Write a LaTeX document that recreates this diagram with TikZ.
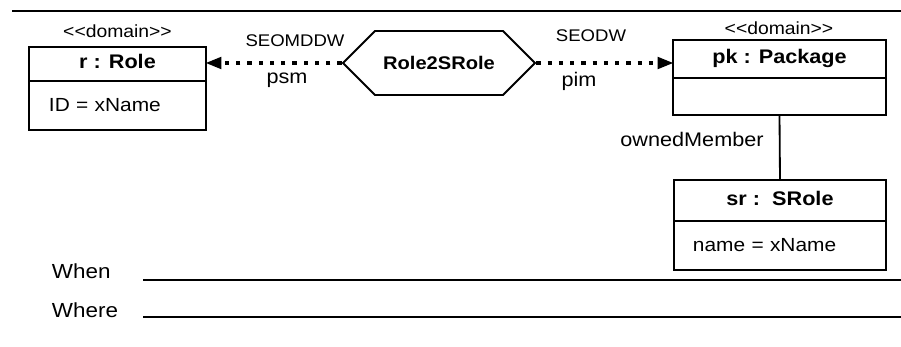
\documentclass[tikz,border=0pt]{standalone}
\usepackage{fontspec}
\setmainfont{Liberation Sans}[FakeStretch=1.1]
\usetikzlibrary{arrows.meta, positioning, shapes.symbols}

\begin{document}
\begin{tikzpicture}[
    x=0.025cm, y=-0.025cm,
    kepala/.style={draw, line width=1.3pt, inner sep=0pt, outer sep=0pt, text height=0.72em, text depth=0.05em,
                   font=\fontsize{14}{16}\selectfont\bfseries},
    isi/.style={draw, line width=1.3pt, inner ysep=0pt, outer sep=0pt, align=left,
                font=\fontsize{13.5}{16}\selectfont},
    stereo/.style={anchor=base, font=\fontsize{12.5}{14}\selectfont},
    teks/.style={anchor=base, font=\fontsize{12}{14}\selectfont},
    peran/.style={anchor=base, font=\fontsize{14}{16}\selectfont},
    panah/.style={line width=2.8pt, dash pattern=on 3pt off 5pt,
                  -{Triangle[length=11pt, width=9pt, line width=0pt]}}
  ]
    \useasboundingbox (0,0) rectangle (901,347);
    \draw[line width=1.3pt] (12,11) -- (901,11);

    % kelas domain kiri
    \node[kepala, minimum width=4.425cm, minimum height=0.85cm] (roleHead) at (117.5,64) {r : Role};
    \node[isi, minimum width=4.425cm, minimum height=1.225cm, text width=3.425cm, inner xsep=0.5cm,
          below=0pt of roleHead] (roleBody) {ID = xName};
    \node[stereo] (roleStereo) at (117.5,38) {{<}{<}domain{>}{>}};

    % transformasi
    \node[draw, line width=1.3pt, shape=signal, signal to=east and west, minimum width=4.8cm,
          minimum height=1.6cm, inner sep=0pt, font=\fontsize{13}{15}\selectfont\bfseries] (trafo) at (439,63) {Role2SRole};

    % kelas domain kanan
    \node[kepala, minimum width=5.325cm, minimum height=0.95cm] (pkgHead) at (779.5,59) {pk : Package};
    \node[isi, minimum width=5.325cm, minimum height=0.925cm, below=0pt of pkgHead] (pkgBody) {};
    \node[stereo] (pkgStereo) at (779,35) {{<}{<}domain{>}{>}};

    \node[kepala, minimum width=5.3cm, minimum height=1.025cm] (srHead) at (780,200.5) {sr :\ \ SRole};
    \node[isi, minimum width=5.3cm, minimum height=1.225cm, text width=4.35cm, inner xsep=0.475cm,
          below=0pt of srHead] (srBody) {name = xName};

    \draw[panah] (trafo.west) -- (trafo.west -| roleHead.east);
    \draw[panah] (trafo.east) -- (trafo.east -| pkgHead.west);
    \node[teks] (psmMeta) at (295,47) {SEOMDDW};
    \node[peran] (psm) at (287,84) {psm};
    \node[teks] (pimMeta) at (591,42) {SEODW};
    \node[peran] (pim) at (579,87) {pim};

    \draw[line width=1.3pt] (pkgBody.south) -- (srHead.north);
    \node[peran] (owned) at (692,147) {ownedMember};

    % when / where
    \node[peran, anchor=base west, font=\fontsize{14.5}{16}\selectfont] (when) at (47,278) {When};
    \node[peran, anchor=base west, font=\fontsize{14.5}{16}\selectfont] (where) at (47,317) {Where};
    \draw[line width=1.3pt] (143,280) -- (901,280);
    \draw[line width=1.3pt] (143,317) -- (901,317);
\end{tikzpicture}
\end{document}
